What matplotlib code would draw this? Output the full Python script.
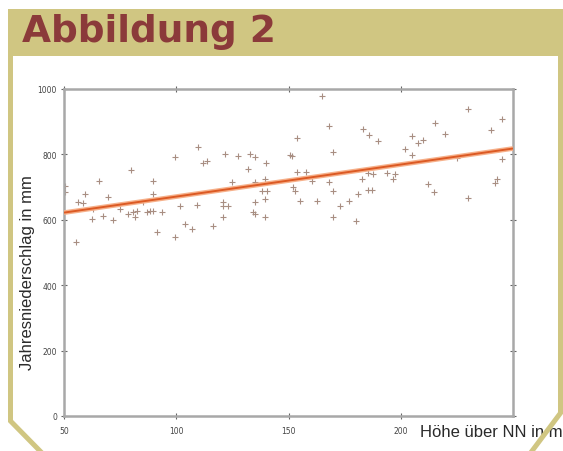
import matplotlib
matplotlib.use("Agg")
import matplotlib.pyplot as plt
from matplotlib.patches import Rectangle
from matplotlib.lines import Line2D
import numpy as np

# ---------------- data ----------------
hoehe = [50.4, 50.4, 55.3, 59.4, 56.2, 58.5, 62.9, 62.5, 65.6, 67.4, 69.6, 71.8,
         74.9, 78.5, 80.7, 82.5, 79.8, 81.6, 85.2, 87.0, 88.3, 89.6, 89.6, 89.6,
         93.7, 91.4, 99.4, 99.4,
         109.7, 111.9, 113.7, 121.7, 127.5, 132.9, 135.1, 132.0, 140.0, 150.7,
         101.7, 109.2, 103.9, 107.0, 116.4, 124.8, 120.8, 120.8, 123.0, 120.8,
         135.1, 135.1, 134.2, 135.1, 139.5, 139.5, 138.2, 140.4, 139.5, 152.0,
         164.9, 168.0, 153.8, 183.2, 185.9, 189.9, 201.9, 169.8, 151.6, 153.8,
         157.8, 160.5, 152.9, 155.1, 162.7, 168.0, 169.8, 172.9, 177.0, 181.0,
         182.7, 185.4, 185.4, 187.2, 187.6, 193.9, 197.4, 196.5, 169.8, 180.1,
         230.0, 245.1, 215.3, 205.0, 207.7, 209.9, 219.7, 240.2, 205.0, 225.0,
         245.1, 212.1, 214.8, 230.0, 242.0, 242.9]
niederschlag = [703, 685, 532, 679, 654, 651, 633, 602, 719, 612, 670, 599,
                633, 618, 624, 627, 752, 609, 654, 624, 627, 627, 719, 679,
                624, 563, 547, 792,
                823, 774, 780, 801, 795, 801, 792, 755, 774, 798,
                642, 645, 587, 572, 581, 716, 654, 642, 642, 609,
                716, 654, 624, 618, 725, 664, 688, 688, 609, 700,
                979, 887, 850, 878, 859, 841, 817, 807, 795, 746,
                746, 719, 688, 657, 657, 716, 688, 642, 657, 679,
                725, 743, 691, 691, 740, 743, 740, 725, 609, 596,
                939, 908, 896, 856, 835, 844, 862, 875, 798, 789,
                786, 709, 685, 667, 713, 725]

trend_x = [50, 250]
trend_y = [622, 818]

x_ticks = [50, 100, 150, 200]
y_ticks = [0, 200, 400, 600, 800, 1000]

title = "Abbildung 2"
x_label = "Höhe über NN in m"
y_label = "Jahresniederschlag in mm"

# ---------------- figure ----------------
W, H = 563, 452
fig = plt.figure(figsize=(W / 100, H / 100), dpi=100)
fig.patch.set_facecolor("white")


def fx(px):
    return px / W


def fy(py):
    return 1 - py / H


ax = fig.add_axes([fx(64), fy(417), fx(513) - fx(64), fy(90) - fy(417)])
ax.set_xlim(50, 250)
ax.set_ylim(0, 1000)

ax.scatter(hoehe, niederschlag, marker="+", s=14, linewidths=0.8,
           color="#a88e82", zorder=2)
ax.plot(trend_x, trend_y, color="#f6b08a", lw=3.4, solid_capstyle="butt", zorder=3)
ax.plot(trend_x, trend_y, color="#dc5a24", lw=1.4, solid_capstyle="butt", zorder=4)

for s in ax.spines.values():
    s.set_color("#a8a8a8")
    s.set_linewidth(1.8)

ax.set_xticks(x_ticks)
ax.set_yticks(y_ticks)
ax.tick_params(direction="inout", length=4, width=0.8, color="#666666",
               labelsize=5.5, labelcolor="#444444",
               top=True, right=True, pad=3)
ax.tick_params(axis="x", pad=5)

# axis titles
fig.text(fx(28), fy(273), y_label, rotation=90, ha="center", va="center",
         fontsize=12, family=["Liberation Sans", "DejaVu Sans"], color="#2a2a2a")
fig.text(fx(420), fy(437), x_label, ha="left", va="baseline",
         fontsize=12, family=["Liberation Sans", "DejaVu Sans"], color="#2a2a2a")

# ---------------- decorative frame ----------------
khaki = "#d0c682"
fig.patches.append(Rectangle((fx(8), fy(57)), fx(563) - fx(8), fy(10) - fy(57),
                             transform=fig.transFigure, facecolor=khaki,
                             edgecolor="none", zorder=5))
fig.lines.append(Line2D([fx(10.5), fx(10.5), fx(40)], [fy(57), fy(422), fy(452)],
                        transform=fig.transFigure, color=khaki, lw=3.6,
                        solid_joinstyle="miter", zorder=6))
fig.lines.append(Line2D([fx(560.5), fx(560.5), fx(532)], [fy(57), fy(414), fy(452)],
                        transform=fig.transFigure, color=khaki, lw=3.6,
                        solid_joinstyle="miter", zorder=6))

fig.text(fx(22), fy(42), title, ha="left", va="baseline", fontsize=27,
         fontweight="bold", family="DejaVu Sans", color="#8b3a3a", zorder=7)

fig.savefig("out.png", dpi=100)
